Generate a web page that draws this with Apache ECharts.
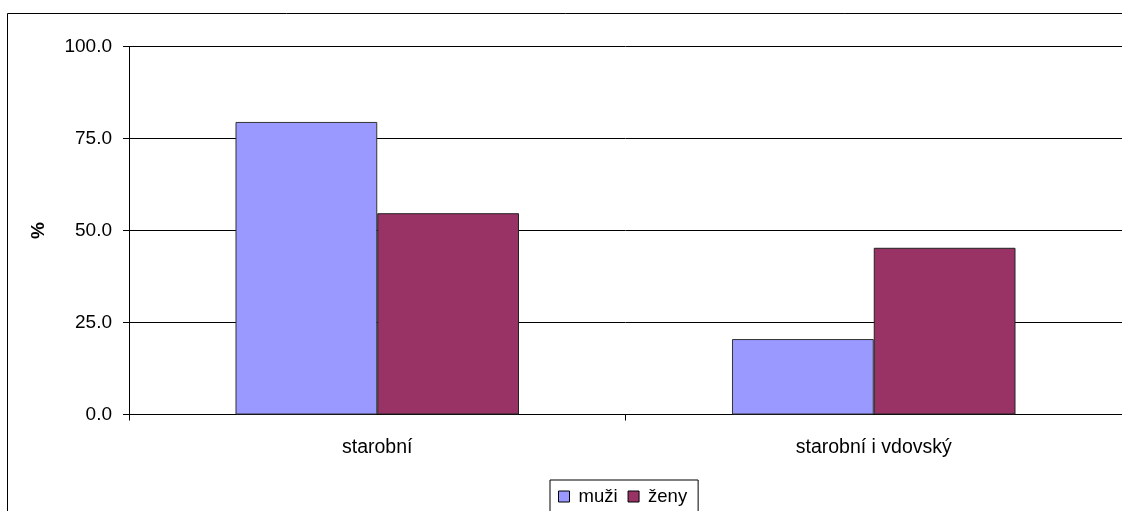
<!DOCTYPE html>
<html>
<head>
<meta charset="utf-8">
<script src="https://cdn.jsdelivr.net/npm/echarts@6/dist/echarts.min.js"></script>
<style>
  html, body { margin: 0; padding: 0; background: #fff; }
  #chart { width: 1122px; height: 511px; }
</style>
</head>
<body>
<div id="chart"></div>
<script>
// Pension type share by sex (%)
const categories = ['starobní', 'starobní i vdovský'];
const muzi = [79.5, 20.5];
const zeny = [54.7, 45.3];
const seriesNames = ['muži', 'ženy'];

const FONT = '"Liberation Sans", Arial, sans-serif';

const chart = echarts.init(document.getElementById('chart'), null, { renderer: 'canvas' });

chart.setOption({
  animation: false,
  backgroundColor: '#fff',
  textStyle: { fontFamily: FONT, color: '#000' },
  graphic: [{
    type: 'rect',
    shape: { x: 7.5, y: 13.5, width: 2000, height: 2000 },
    style: { fill: 'none', stroke: '#000', lineWidth: 1 },
    silent: true,
    z: -1
  }],
  grid: { left: 129, top: 46.5, width: 994, height: 368, containLabel: false },
  legend: {
    data: seriesNames,
    left: 550,
    top: 480,
    orient: 'horizontal',
    icon: 'rect',
    itemWidth: 11,
    itemHeight: 11,
    itemGap: 10,
    borderColor: '#000',
    borderWidth: 1,
    padding: [7, 11, 30, 8],
    textStyle: { fontFamily: FONT, fontSize: 18.5, color: '#000', padding: [0, 0, 0, 4] },
    itemStyle: { borderColor: '#000', borderWidth: 1 }
  },
  xAxis: {
    type: 'category',
    data: categories,
    axisLine: { show: true, lineStyle: { color: '#000', width: 1 } },
    axisTick: { show: true, length: 6, lineStyle: { color: '#000' } },
    axisLabel: { fontFamily: FONT, fontSize: 19.5, color: '#000', margin: 23 },
    splitLine: { show: false }
  },
  yAxis: {
    type: 'value',
    min: 0,
    max: 100,
    interval: 25,
    name: '%',
    nameLocation: 'middle',
    nameRotate: 90,
    nameGap: 81,
    nameTextStyle: { fontFamily: FONT, fontSize: 19, fontWeight: 'bold', color: '#000' },
    axisLine: { show: true, lineStyle: { color: '#000', width: 1 } },
    axisTick: { show: true, length: 6, lineStyle: { color: '#000' } },
    axisLabel: {
      fontFamily: FONT, fontSize: 19, color: '#000', margin: 17,
      formatter: v => v.toFixed(1)
    },
    splitLine: { show: true, lineStyle: { color: '#000', width: 1 } }
  },
  series: [
    {
      name: seriesNames[0],
      type: 'bar',
      data: muzi,
      barGap: '0%',
      barCategoryGap: '42.9%',
      itemStyle: { color: '#9999FF', borderColor: '#333', borderWidth: 1 }
    },
    {
      name: seriesNames[1],
      type: 'bar',
      data: zeny,
      barGap: '0%',
      barCategoryGap: '42.9%',
      itemStyle: { color: '#993366', borderColor: '#222', borderWidth: 1 }
    }
  ]
});
</script>
</body>
</html>
